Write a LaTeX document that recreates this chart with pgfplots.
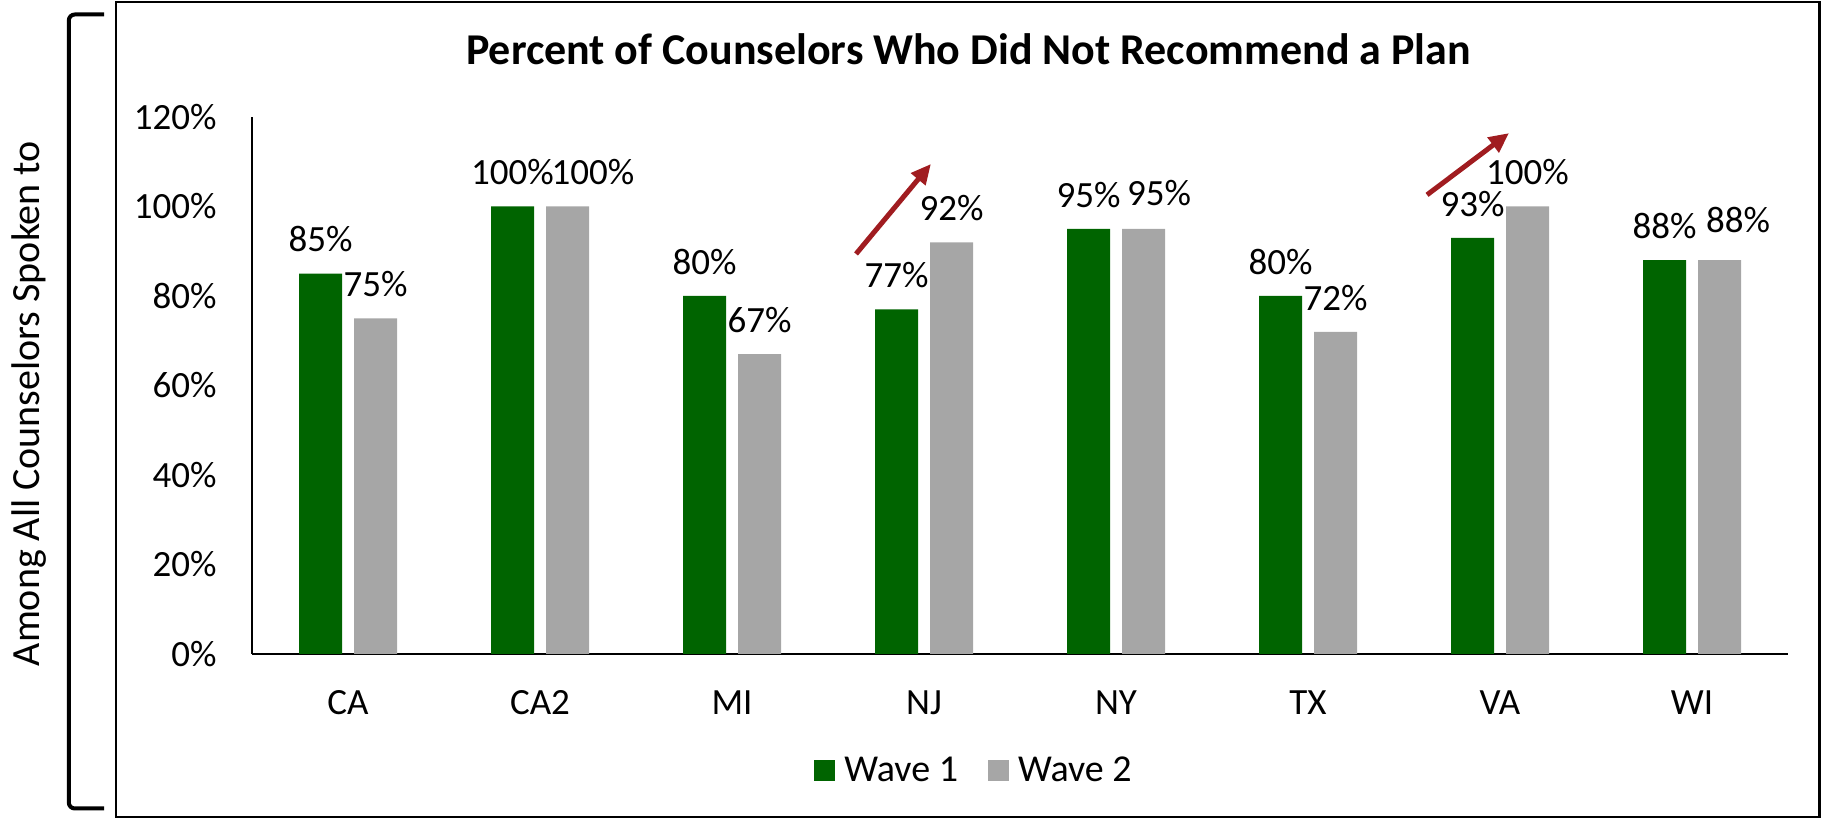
\documentclass[border=0pt]{standalone}
\usepackage{fontspec}
\setmainfont{Carlito}
\usepackage{pgfplots}
\pgfplotsset{compat=1.18}
\usetikzlibrary{arrows.meta}
\definecolor{wgreen}{RGB}{0,100,0}
\definecolor{wgray}{RGB}{166,166,166}
\definecolor{arrred}{RGB}{160,28,32}
\begin{document}
\begin{tikzpicture}
\useasboundingbox (0pt,0pt) rectangle (913pt,411pt);
% outer frame
\draw[line width=1.15pt] (58pt,2.5pt) rectangle (909.75pt,410pt);
% bracket
\draw[line width=2pt, rounded corners=3pt] (52pt,403.75pt) -- (34.4pt,403.75pt) -- (34.4pt,6.75pt) -- (52pt,6.75pt);
% y label
\node[rotate=90, font=\fontsize{20}{24}\selectfont] at (14.75pt,209.25pt) {Among All Counselors Spoken to};
% title
\node[anchor=base, font=\bfseries\fontsize{22}{26}\selectfont] at (484.25pt,378.5pt) {Percent of Counselors Who Did Not Recommend a Plan};
\begin{axis}[
  at={(126pt,84pt)}, anchor=south west,
  scale only axis, width=768pt, height=268.5pt,
  xmin=-0.5, xmax=7.5, ymin=0, ymax=120,
  enlargelimits=false,
  ybar=6pt, bar width=21.5pt,
  axis x line*=bottom, axis y line*=left,
  axis line style={line width=0.7pt, black},
  major tick length=0pt,
  xtick={0,...,7},
  xticklabels={CA,CA2,MI,NJ,NY,TX,VA,WI},
  ytick={0,20,...,120},
  /pgf/number format/assume math mode=true,
  yticklabel={\pgfmathprintnumber{\tick}\%},
  yticklabel style={anchor=east, inner sep=0pt, xshift=-17.5pt, font=\fontsize{18.5}{20}\selectfont},
  xticklabel style={anchor=base, yshift=-30.5pt, font=\fontsize{18.5}{20}\selectfont},
  nodes near coords={\pgfmathprintnumber{\pgfplotspointmeta}\%},
  every node near coord/.append style={font=\fontsize{18.5}{20}\selectfont, inner sep=0pt, yshift=10.5pt, black},
  legend columns=2,
  legend style={at={(0.4707,-0.2179)}, anchor=center, draw=none, fill=none,
    font=\fontsize{19}{21}\selectfont,
    /tikz/every even column/.append style={column sep=13pt}},
  legend image code/.code={\fill[#1] (0pt,-5.25pt) rectangle (10.5pt,5.25pt); \path (13pt,0pt);},
  clip=false,
]
\addplot[fill=wgreen, draw=none] coordinates {(0,85) (1,100) (2,80) (3,77) (4,95) (5,80) (6,93) (7,88)};
\addplot[fill=wgray, draw=none,
  visualization depends on=value \thisrow{dx}\as\dx,
  visualization depends on=value \thisrow{dy}\as\dy,
  every node near coord/.append style={xshift=\dx pt, yshift=\dy pt}]
  table[x=x, y=y] {
x y dx dy
0 75 0 0
1 100 12.75 0
2 67 0 0
3 92 0 0
4 95 7.75 1
5 72 0 0
6 100 0 0
7 88 9.25 3
};
\legend{Wave 1, Wave 2}
\draw[arrred, line width=2.5pt, -{Triangle[length=10pt,width=9pt]}] (axis cs:2.646,89.4) -- (axis cs:3.036,109.5);
\draw[arrred, line width=2.5pt, -{Triangle[length=10pt,width=9pt]}] (axis cs:5.620,102.6) -- (axis cs:6.047,116.4);
\end{axis}
\end{tikzpicture}
\end{document}
